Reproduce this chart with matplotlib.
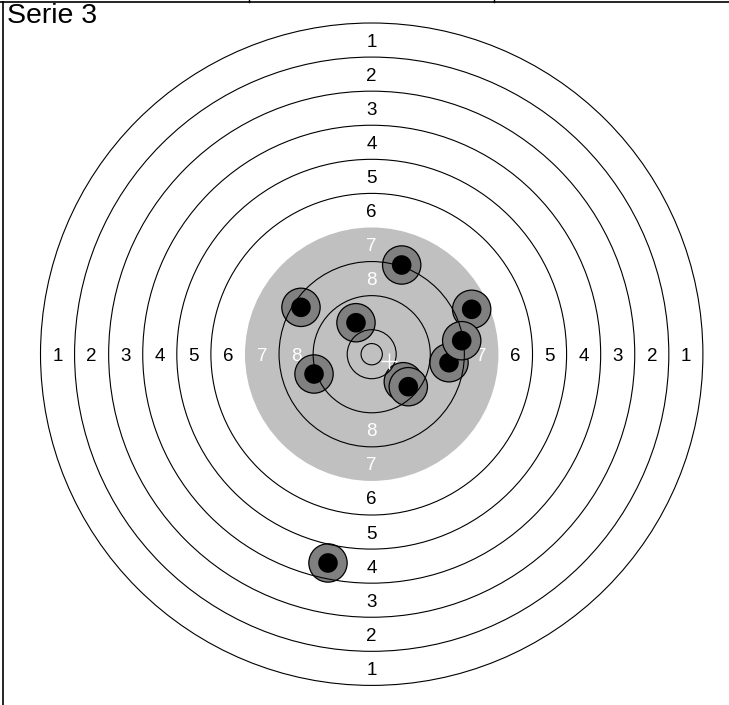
import numpy as np
import matplotlib
matplotlib.use("Agg")
import matplotlib.pyplot as plt
from matplotlib.patches import Circle
from matplotlib.lines import Line2D

plt.rcParams['font.family'] = ['Liberation Sans', 'DejaVu Sans']

# Target geometry (mm), 10m air pistol style target
title = "Serie 3"
ring_scores = [1, 2, 3, 4, 5, 6, 7, 8, 9, 10]
ring_radii = [77.75, 69.75, 61.75, 53.75, 45.75, 37.75, 29.75, 21.75, 13.75, 5.75]
inner_ten = 2.5
black_radius = 29.75
labelled_scores = [1, 2, 3, 4, 5, 6, 7, 8]

# Shots (mm from centre), in drawing order
shot_x = [7.04, -16.6, -3.69, 23.47, 18.15, 21.13, -13.54, 7.42, 8.59, -10.26]
shot_y = [20.94, 11.0, 7.39, 10.54, -2.0, 3.17, -4.65, -6.46, -7.63, -49.01]
shot_r = 4.5
hole_r = 2.3

fig = plt.figure(figsize=(7.29, 7.05), dpi=100)
ax = fig.add_axes([0, 0, 1, 1])
ax.set_xlim(-87.25, 83.87)
ax.set_ylim(-82.35, 83.15)
ax.set_aspect("equal")
ax.axis("off")

# grey "black" area
ax.add_patch(Circle((0, 0), black_radius, facecolor="#c0c0c0", edgecolor="none", zorder=1))

# ring lines (drawn above the shots)
for score, r in zip(ring_scores, ring_radii):
    if r == black_radius:
        continue
    ax.add_patch(Circle((0, 0), r, fill=False, edgecolor="black", lw=0.8, zorder=5))
ax.add_patch(Circle((0, 0), inner_ten, fill=False, edgecolor="black", lw=0.8, zorder=5))

# ring numbers
for score in labelled_scores:
    r = ring_radii[score - 1] - 4
    col = "white" if ring_radii[score - 1] <= black_radius else "black"
    for dx, dy in [(-1, 0), (1, 0), (0, 1), (0, -1)]:
        ax.text(dx * r, dy * r, str(score), ha="center", va="center_baseline",
                fontsize=13.5, color=col, zorder=2)

# shots
for x, y in zip(shot_x, shot_y):
    ax.add_patch(Circle((x, y), shot_r, facecolor="#808080", edgecolor="black", lw=0.9, zorder=3))
    ax.add_patch(Circle((x, y), hole_r, facecolor="black", edgecolor="none", zorder=3))

# mean point of impact
ax.plot(np.mean(shot_x), np.mean(shot_y), marker="+", color="white", markersize=11,
        mew=1, zorder=6)

fig.text(7 / 729, 1 - 3 / 705, title, ha="left", va="top", fontsize=20.5)

# table cell borders
fig.add_artist(Line2D([0, 1], [1 - 1.5 / 705] * 2, color="black", lw=1.2))
fig.add_artist(Line2D([2.5 / 729] * 2, [0, 1 - 1.5 / 705], color="black", lw=1.2))
for xp in [249, 494]:
    fig.add_artist(Line2D([xp / 729] * 2, [1 - 1.5 / 705, 1], color="black", lw=1.0))

fig.savefig("out.png", dpi=100)
